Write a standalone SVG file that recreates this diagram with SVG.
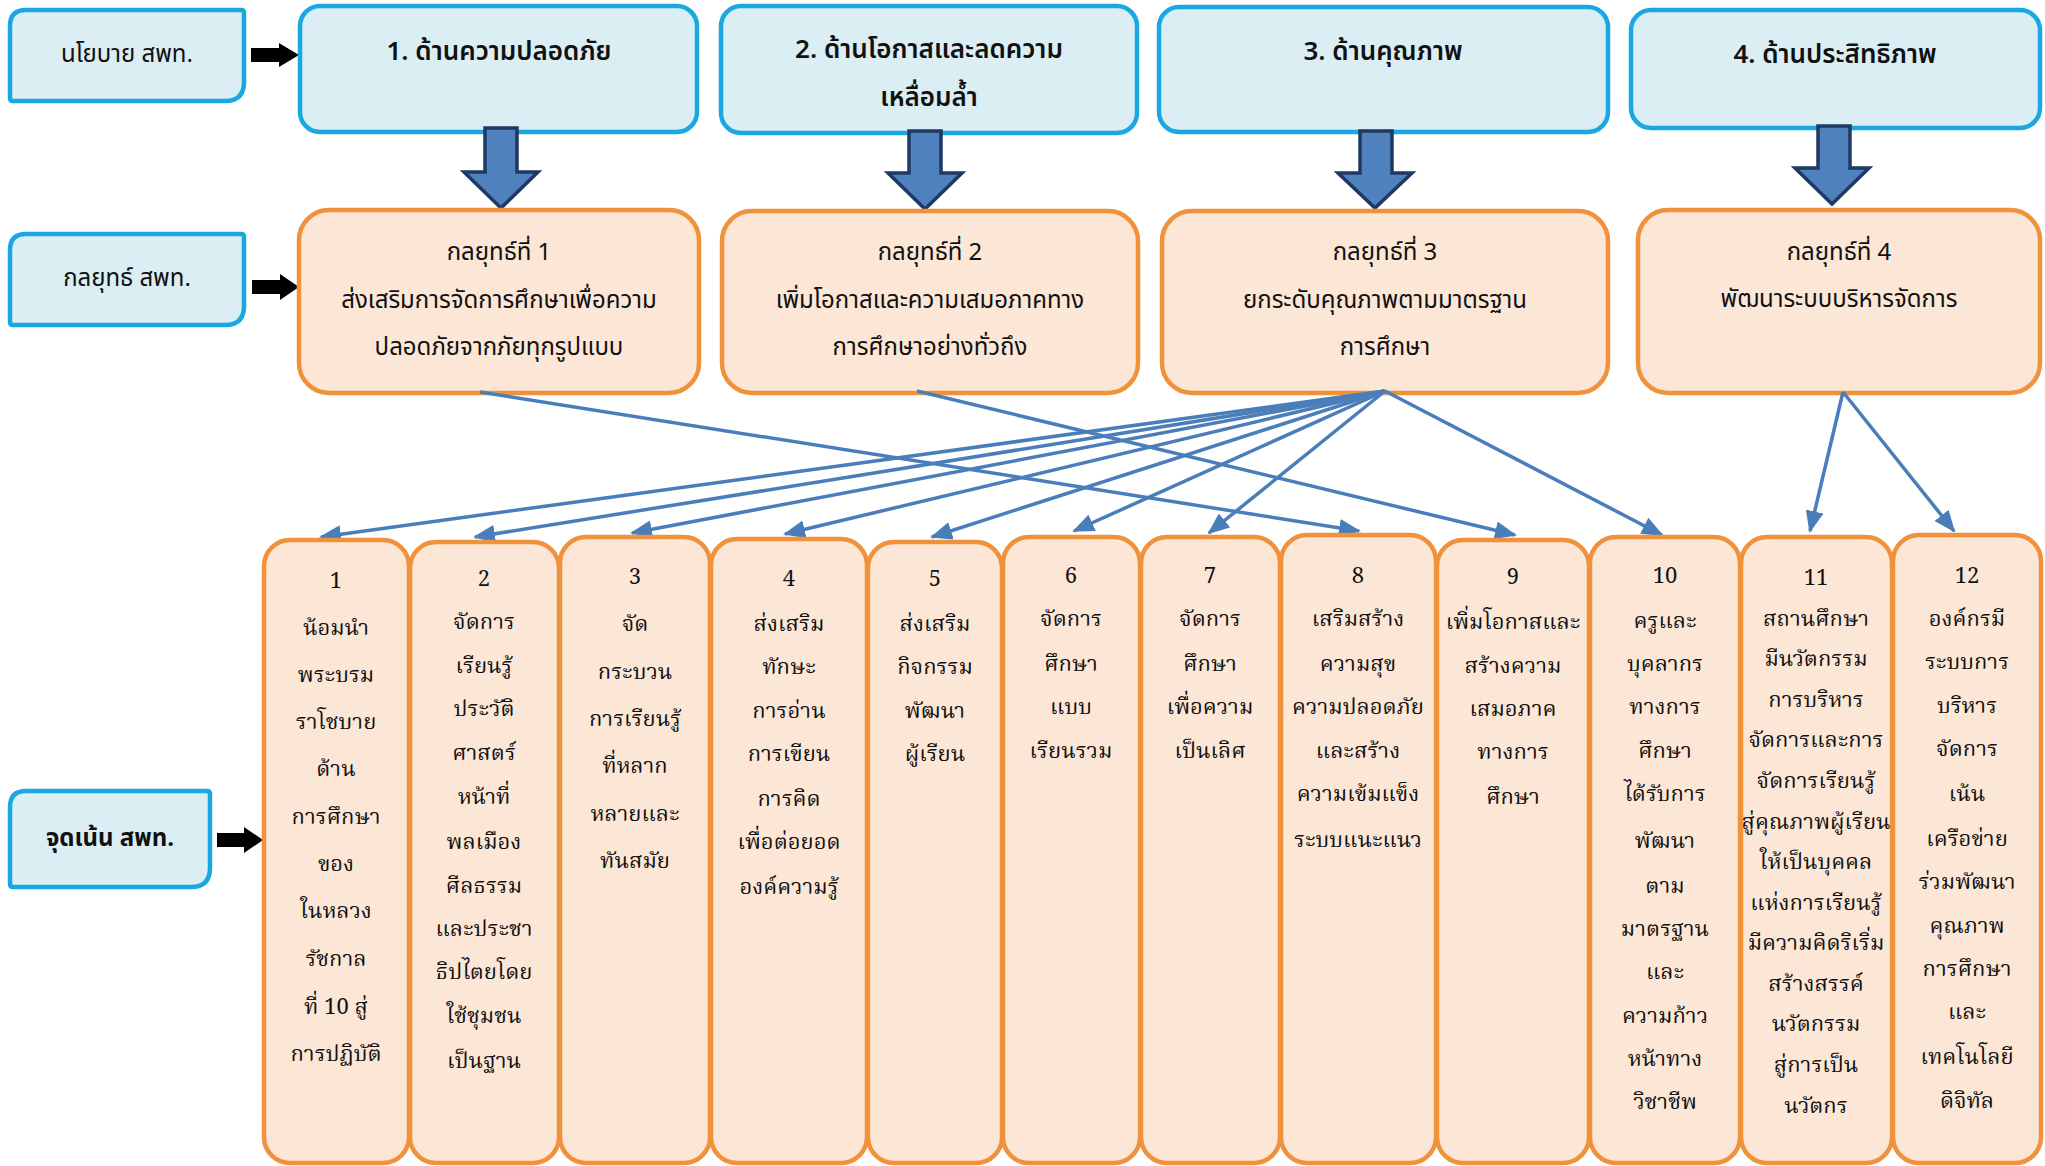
<svg xmlns="http://www.w3.org/2000/svg" width="2045" height="1166" viewBox="0 0 2045 1166">
<style>
.bluebox{fill:#DBEEF4;stroke:#1AA7E2;stroke-width:4.5}
.orbox{fill:#FCE6D6;stroke:#F0923C;stroke-width:4.5}
.col{fill:#FCE6D6;stroke:#F0923C;stroke-width:4.5}
.blk{fill:#000}
.big{fill:#4F81BD;stroke:#1F3864;stroke-width:3.5;stroke-linejoin:miter}
.conn{stroke:#4A7EBB;stroke-width:3.5;fill:none}
.t{font-family:"Noto Sans Thai","Noto Sans","DejaVu Sans",sans-serif;fill:#111;text-anchor:middle;dominant-baseline:central}
.h{font-size:26px;font-weight:600}
.s{font-size:24px}
.lab{font-size:24px}
.c{font-family:"Noto Serif Thai","Noto Sans Thai","Liberation Serif",serif;font-size:22px;fill:#111;text-anchor:middle;dominant-baseline:central}
</style>
<defs>
<marker id="ah" markerUnits="userSpaceOnUse" markerWidth="22" markerHeight="18" refX="20" refY="9" orient="auto">
<path d="M0,0 L22,9 L0,18 Z" fill="#4A7EBB"/>
</marker>
</defs>

<!-- left labels -->
<g id="label-policy">
<path class="bluebox" d="M26,10 H241 Q244,10 244,13 V82 Q244,101 225,101 H13 Q10,101 10,98 V26 Q10,10 26,10 Z"/>
<text class="t lab" x="127" y="55">นโยบาย สพท.</text>
</g>
<g id="label-strategy">
<path class="bluebox" d="M26,234 H241 Q244,234 244,237 V306 Q244,325 225,325 H13 Q10,325 10,322 V250 Q10,234 26,234 Z"/>
<text class="t lab" x="127" y="279">กลยุทธ์ สพท.</text>
</g>
<g id="label-focus">
<path class="bluebox" d="M26,791 H207 Q210,791 210,794 V868 Q210,887 191,887 H13 Q10,887 10,884 V807 Q10,791 26,791 Z"/>
<text class="t lab" x="110" y="839" font-weight="bold" font-size="23">จุดเน้น สพท.</text>
</g>
<g id="label-arrows">
<polygon class="blk" points="251,48 279,48 279,43 299,55 279,67 279,62 251,62"/>
<polygon class="blk" points="252,280 280,280 280,274 299,287 280,300 280,294 252,294"/>
<polygon class="blk" points="217,833 244,833 244,827 263,840 244,853 244,847 217,847"/>
</g>

<!-- policy boxes -->
<g id="policy-1">
<rect class="bluebox" x="300" y="6" width="397" height="126" rx="20"/>
<text class="t h" x="499" y="52">1. ด้านความปลอดภัย</text>
</g>
<g id="policy-2">
<rect class="bluebox" x="721" y="6" width="416" height="127" rx="20"/>
<text class="t h" x="929" y="50">2. ด้านโอกาสและลดความ</text>
<text class="t h" x="929" y="98">เหลื่อมล้ำ</text>
</g>
<g id="policy-3">
<rect class="bluebox" x="1159" y="7" width="449" height="125" rx="20"/>
<text class="t h" x="1383" y="52">3. ด้านคุณภาพ</text>
</g>
<g id="policy-4">
<rect class="bluebox" x="1631" y="10" width="409" height="118" rx="20"/>
<text class="t h" x="1835" y="55">4. ด้านประสิทธิภาพ</text>
</g>

<!-- big arrows -->
<g id="big-arrows">
<polygon class="big" points="485,128 517,128 517,172 538,172 501,208 464,172 485,172"/>
<polygon class="big" points="909,131 941,131 941,173 962,173 925,209 888,173 909,173"/>
<polygon class="big" points="1360,131 1392,131 1392,173 1412,173 1375,208 1338,173 1360,173"/>
<polygon class="big" points="1818,126 1850,126 1850,168 1869,168 1832,204 1795,168 1818,168"/>
</g>

<!-- strategy boxes -->
<g id="strategy-1">
<rect class="orbox" x="299" y="210" width="400" height="183" rx="30"/>
<text class="t s" x="499" y="253">กลยุทธ์ที่ 1</text>
<text class="t s" x="499" y="301">ส่งเสริมการจัดการศึกษาเพื่อความ</text>
<text class="t s" x="499" y="348">ปลอดภัยจากภัยทุกรูปแบบ</text>
</g>
<g id="strategy-2">
<rect class="orbox" x="722" y="211" width="416" height="182" rx="30"/>
<text class="t s" x="930" y="253">กลยุทธ์ที่ 2</text>
<text class="t s" x="930" y="301">เพิ่มโอกาสและความเสมอภาคทาง</text>
<text class="t s" x="930" y="348">การศึกษาอย่างทั่วถึง</text>
</g>
<g id="strategy-3">
<rect class="orbox" x="1162" y="211" width="446" height="182" rx="30"/>
<text class="t s" x="1385" y="253">กลยุทธ์ที่ 3</text>
<text class="t s" x="1385" y="301">ยกระดับคุณภาพตามมาตรฐาน</text>
<text class="t s" x="1385" y="348">การศึกษา</text>
</g>
<g id="strategy-4">
<rect class="orbox" x="1638" y="210" width="402" height="183" rx="30"/>
<text class="t s" x="1839" y="253">กลยุทธ์ที่ 4</text>
<text class="t s" x="1839" y="300">พัฒนาระบบบริหารจัดการ</text>
</g>

<!-- connectors -->
<g id="connectors">
<line class="conn" marker-end="url(#ah)" x1="480" y1="392" x2="1359" y2="531"/>
<line class="conn" marker-end="url(#ah)" x1="917" y1="391" x2="1515" y2="535"/>
<line class="conn" marker-end="url(#ah)" x1="1385" y1="391" x2="321" y2="537"/>
<line class="conn" marker-end="url(#ah)" x1="1385" y1="391" x2="475" y2="537"/>
<line class="conn" marker-end="url(#ah)" x1="1385" y1="391" x2="632" y2="533"/>
<line class="conn" marker-end="url(#ah)" x1="1385" y1="391" x2="785" y2="534"/>
<line class="conn" marker-end="url(#ah)" x1="1385" y1="391" x2="932" y2="537"/>
<line class="conn" marker-end="url(#ah)" x1="1385" y1="391" x2="1074" y2="531"/>
<line class="conn" marker-end="url(#ah)" x1="1385" y1="391" x2="1209" y2="533"/>
<line class="conn" marker-end="url(#ah)" x1="1385" y1="391" x2="1662" y2="535"/>
<line class="conn" marker-end="url(#ah)" x1="1843" y1="392" x2="1810" y2="531"/>
<line class="conn" marker-end="url(#ah)" x1="1843" y1="392" x2="1954" y2="531"/>
</g>

<!-- focus columns -->
<g id="focus-1">
<rect class="col" x="264" y="540" width="145" height="623" rx="26"/>
<text class="c" x="336"><tspan x="336" y="582">1</tspan><tspan x="336" y="629">น้อมนำ</tspan><tspan x="336" y="676">พระบรม</tspan><tspan x="336" y="723">ราโชบาย</tspan><tspan x="336" y="770">ด้าน</tspan><tspan x="336" y="818">การศึกษา</tspan><tspan x="336" y="865">ของ</tspan><tspan x="336" y="912">ในหลวง</tspan><tspan x="336" y="960">รัชกาล</tspan><tspan x="336" y="1008">ที่ 10 สู่</tspan><tspan x="336" y="1055">การปฏิบัติ</tspan></text>
</g>
<g id="focus-2">
<rect class="col" x="410" y="542" width="149" height="621" rx="26"/>
<text class="c" x="484"><tspan x="484" y="580">2</tspan><tspan x="484" y="623">จัดการ</tspan><tspan x="484" y="667">เรียนรู้</tspan><tspan x="484" y="710">ประวัติ</tspan><tspan x="484" y="754">ศาสตร์</tspan><tspan x="484" y="798">หน้าที่</tspan><tspan x="484" y="843">พลเมือง</tspan><tspan x="484" y="887">ศีลธรรม</tspan><tspan x="484" y="930">และประชา</tspan><tspan x="484" y="973">ธิปไตยโดย</tspan><tspan x="484" y="1017">ใช้ชุมชน</tspan><tspan x="484" y="1062">เป็นฐาน</tspan></text>
</g>
<g id="focus-3">
<rect class="col" x="560" y="537" width="150" height="626" rx="26"/>
<text class="c" x="635"><tspan x="635" y="578">3</tspan><tspan x="635" y="625">จัด</tspan><tspan x="635" y="673">กระบวน</tspan><tspan x="635" y="720">การเรียนรู้</tspan><tspan x="635" y="767">ที่หลาก</tspan><tspan x="635" y="815">หลายและ</tspan><tspan x="635" y="862">ทันสมัย</tspan></text>
</g>
<g id="focus-4">
<rect class="col" x="711" y="539" width="156" height="624" rx="26"/>
<text class="c" x="789"><tspan x="789" y="580">4</tspan><tspan x="789" y="625">ส่งเสริม</tspan><tspan x="789" y="668">ทักษะ</tspan><tspan x="789" y="712">การอ่าน</tspan><tspan x="789" y="755">การเขียน</tspan><tspan x="789" y="800">การคิด</tspan><tspan x="789" y="843">เพื่อต่อยอด</tspan><tspan x="789" y="888">องค์ความรู้</tspan></text>
</g>
<g id="focus-5">
<rect class="col" x="868" y="542" width="134" height="621" rx="26"/>
<text class="c" x="935"><tspan x="935" y="580">5</tspan><tspan x="935" y="625">ส่งเสริม</tspan><tspan x="935" y="668">กิจกรรม</tspan><tspan x="935" y="712">พัฒนา</tspan><tspan x="935" y="755">ผู้เรียน</tspan></text>
</g>
<g id="focus-6">
<rect class="col" x="1003" y="537" width="137" height="626" rx="26"/>
<text class="c" x="1071"><tspan x="1071" y="577">6</tspan><tspan x="1071" y="620">จัดการ</tspan><tspan x="1071" y="665">ศึกษา</tspan><tspan x="1071" y="708">แบบ</tspan><tspan x="1071" y="752">เรียนรวม</tspan></text>
</g>
<g id="focus-7">
<rect class="col" x="1141" y="537" width="139" height="626" rx="26"/>
<text class="c" x="1210"><tspan x="1210" y="577">7</tspan><tspan x="1210" y="620">จัดการ</tspan><tspan x="1210" y="665">ศึกษา</tspan><tspan x="1210" y="708">เพื่อความ</tspan><tspan x="1210" y="752">เป็นเลิศ</tspan></text>
</g>
<g id="focus-8">
<rect class="col" x="1281" y="535" width="155" height="628" rx="26"/>
<text class="c" x="1358"><tspan x="1358" y="577">8</tspan><tspan x="1358" y="620">เสริมสร้าง</tspan><tspan x="1358" y="665">ความสุข</tspan><tspan x="1358" y="708">ความปลอดภัย</tspan><tspan x="1358" y="752">และสร้าง</tspan><tspan x="1358" y="795">ความเข้มแข็ง</tspan><tspan x="1358" y="841">ระบบแนะแนว</tspan></text>
</g>
<g id="focus-9">
<rect class="col" x="1437" y="540" width="152" height="623" rx="26"/>
<text class="c" x="1513"><tspan x="1513" y="578">9</tspan><tspan x="1513" y="623">เพิ่มโอกาสและ</tspan><tspan x="1513" y="667">สร้างความ</tspan><tspan x="1513" y="710">เสมอภาค</tspan><tspan x="1513" y="753">ทางการ</tspan><tspan x="1513" y="798">ศึกษา</tspan></text>
</g>
<g id="focus-10">
<rect class="col" x="1590" y="537" width="150" height="626" rx="26"/>
<text class="c" x="1665"><tspan x="1665" y="577">10</tspan><tspan x="1665" y="622">ครูและ</tspan><tspan x="1665" y="665">บุคลากร</tspan><tspan x="1665" y="708">ทางการ</tspan><tspan x="1665" y="752">ศึกษา</tspan><tspan x="1665" y="795">ได้รับการ</tspan><tspan x="1665" y="842">พัฒนา</tspan><tspan x="1665" y="887">ตาม</tspan><tspan x="1665" y="930">มาตรฐาน</tspan><tspan x="1665" y="973">และ</tspan><tspan x="1665" y="1017">ความก้าว</tspan><tspan x="1665" y="1060">หน้าทาง</tspan><tspan x="1665" y="1103">วิชาชีพ</tspan></text>
</g>
<g id="focus-11">
<rect class="col" x="1741" y="537" width="151" height="626" rx="26"/>
<text class="c" x="1816"><tspan x="1816" y="579">11</tspan><tspan x="1816" y="620">สถานศึกษา</tspan><tspan x="1816" y="660">มีนวัตกรรม</tspan><tspan x="1816" y="701">การบริหาร</tspan><tspan x="1816" y="741">จัดการและการ</tspan><tspan x="1816" y="782">จัดการเรียนรู้</tspan><tspan x="1816" y="823">สู่คุณภาพผู้เรียน</tspan><tspan x="1816" y="863">ให้เป็นบุคคล</tspan><tspan x="1816" y="904">แห่งการเรียนรู้</tspan><tspan x="1816" y="944">มีความคิดริเริ่ม</tspan><tspan x="1816" y="985">สร้างสรรค์</tspan><tspan x="1816" y="1025">นวัตกรรม</tspan><tspan x="1816" y="1066">สู่การเป็น</tspan><tspan x="1816" y="1107">นวัตกร</tspan></text>
</g>
<g id="focus-12">
<rect class="col" x="1893" y="535" width="148" height="628" rx="26"/>
<text class="c" x="1967"><tspan x="1967" y="577">12</tspan><tspan x="1967" y="620">องค์กรมี</tspan><tspan x="1967" y="663">ระบบการ</tspan><tspan x="1967" y="707">บริหาร</tspan><tspan x="1967" y="750">จัดการ</tspan><tspan x="1967" y="795">เน้น</tspan><tspan x="1967" y="840">เครือข่าย</tspan><tspan x="1967" y="883">ร่วมพัฒนา</tspan><tspan x="1967" y="927">คุณภาพ</tspan><tspan x="1967" y="970">การศึกษา</tspan><tspan x="1967" y="1013">และ</tspan><tspan x="1967" y="1058">เทคโนโลยี</tspan><tspan x="1967" y="1102">ดิจิทัล</tspan></text>
</g>
</svg>
